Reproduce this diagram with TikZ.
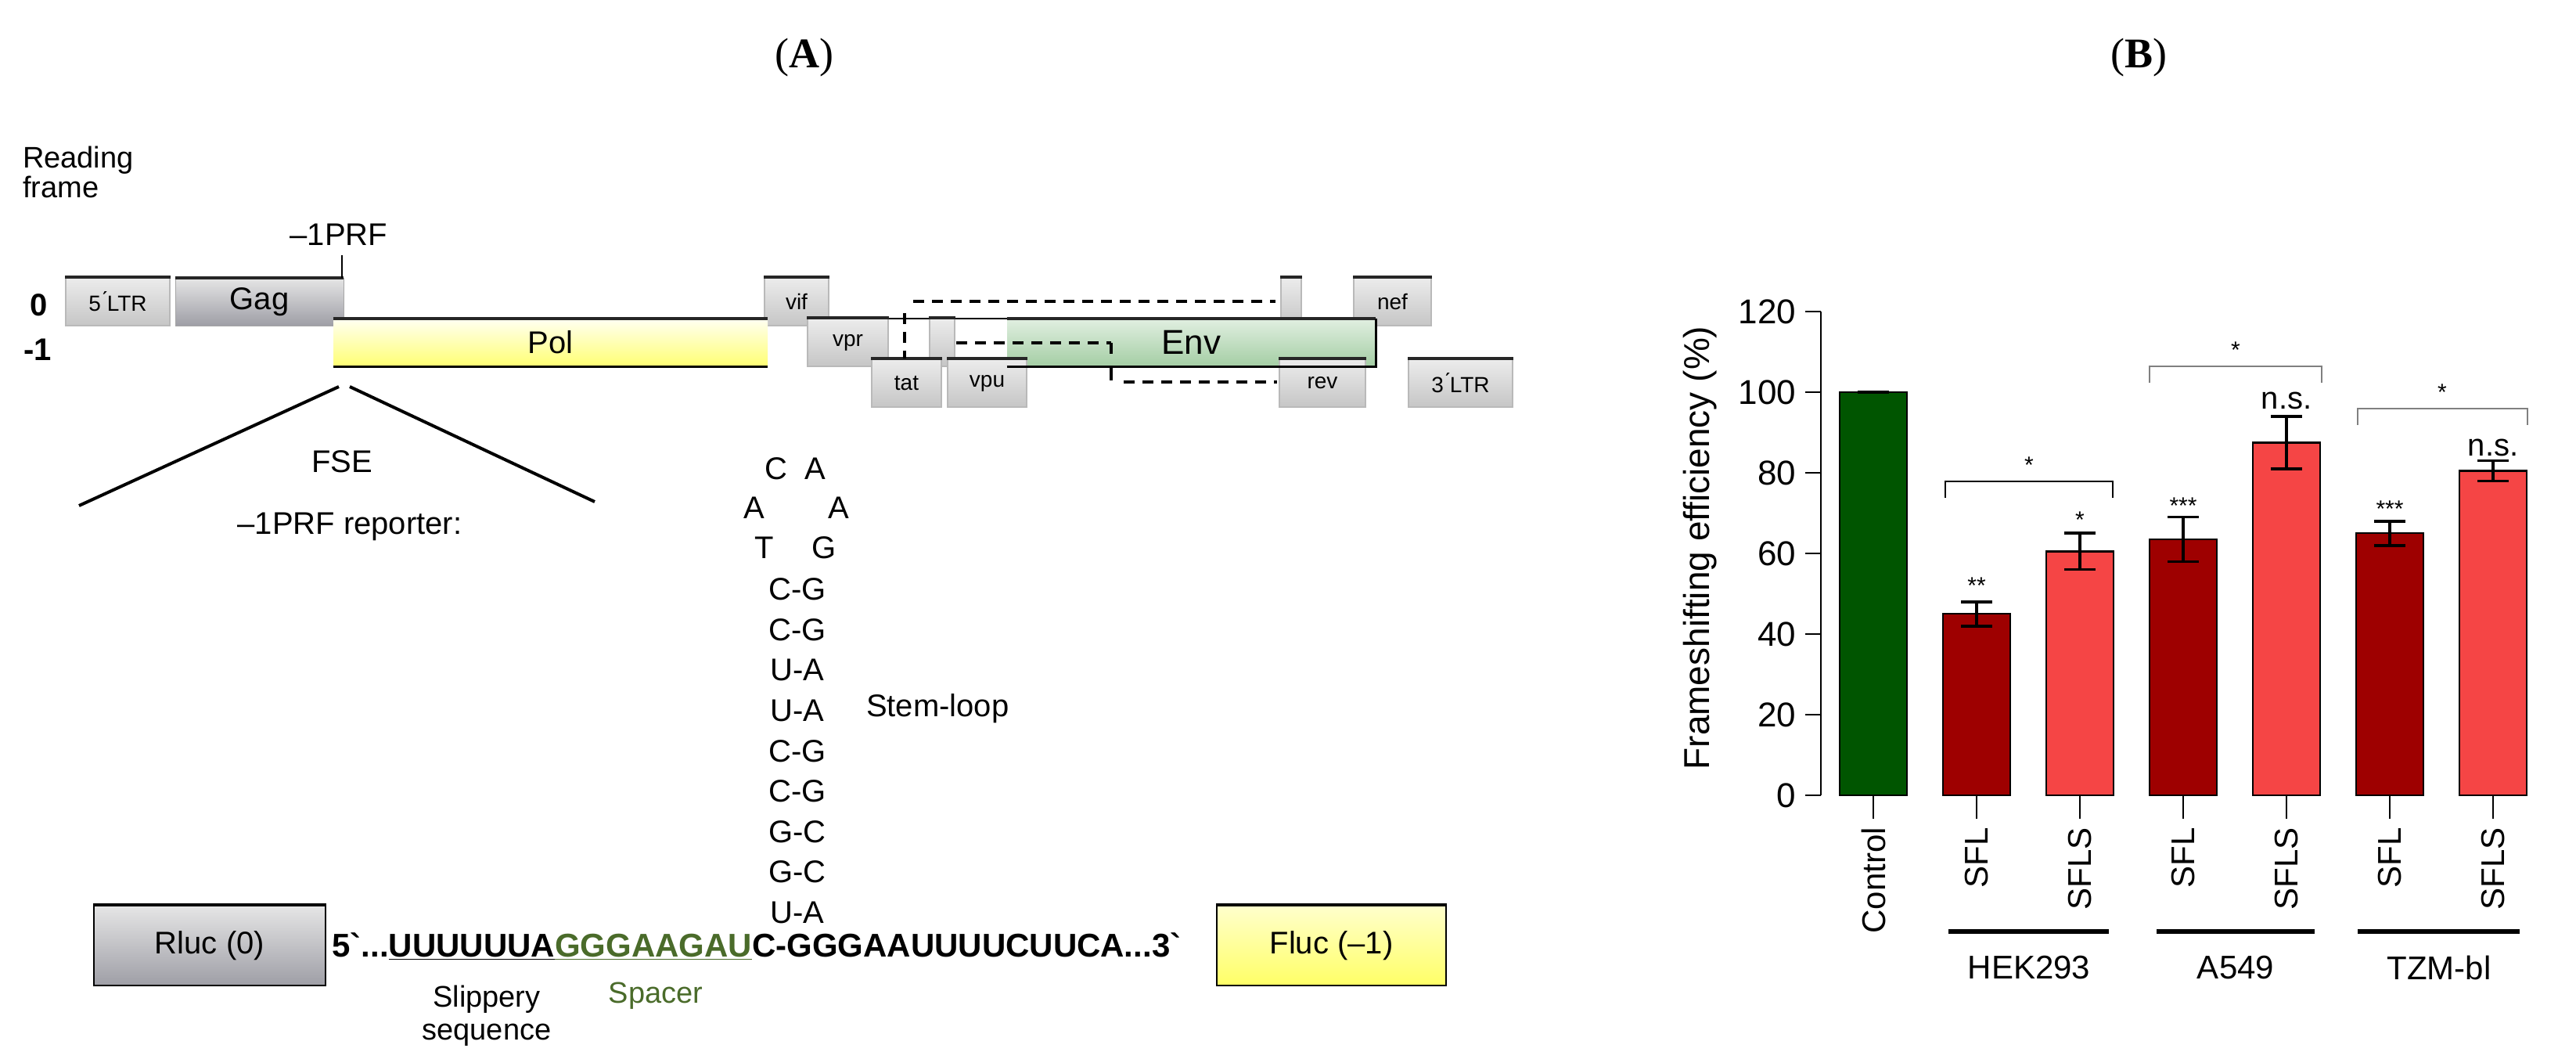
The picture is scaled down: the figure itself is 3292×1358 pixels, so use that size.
\documentclass[tikz,border=0pt]{standalone}
\usepackage{fontspec}
\setmainfont{Liberation Sans}
\newfontfamily\headfont{Liberation Serif}
\usetikzlibrary{fit}
\newcommand\myul[1]{$\underline{\hbox{#1}}$}
\newcommand\fs[1]{\fontsize{#1pt}{#1pt}\selectfont}
\definecolor{spgreen}{HTML}{4A6B2A}
\definecolor{ctl}{HTML}{005500}
\definecolor{dred}{HTML}{9E0000}
\definecolor{lred}{HTML}{F54545}
\tikzset{
  gb/.style={inner sep=0pt, draw=gray!55, line width=0.6pt, top color=#1!15, bottom color=#1!45},
  gbox/.style={gb=gray},
  gagbox/.style={inner sep=0pt, draw=gray!70, top color=black!10, bottom color=blue!8!black!38},
  polbox/.style={inner sep=0pt, draw=none, top color=yellow!5, bottom color=yellow!55},
  envbox/.style={inner sep=0pt, draw=none, top color=green!30!gray!18, bottom color=green!30!gray!55},
  flucbox/.style={inner sep=0pt, draw=black, line width=1pt, top color=yellow!20, bottom color=yellow!60},
  topedge/.style={line width=2pt, black!85},
  lab/.style={font=\fs{20}, text=black},
  small/.style={font=\fs{14}},
  spl/.style={line width=2.2pt, dash pattern=on 7pt off 5pt},
  bar/.style={draw=black, line width=1.2pt, inner sep=0pt},
  ax/.style={line width=1.2pt},
  ticklab/.style={font=\fs{22}, anchor=east},
  xlab/.style={font=\fs{21}, rotate=90, anchor=east},
  star/.style={font=\fs{15}, anchor=south},
}
\begin{document}
\begin{tikzpicture}[x=0.5pt,y=-0.5pt]
\useasboundingbox (0,0) rectangle (3292,1358);
% headings
\node[font=\headfont\fs{27}] (hA) at (1028,74) {(\textbf{A})};
\node[font=\headfont\fs{27}] (hB) at (2733,74) {(\textbf{B})};
% reading frame
\node[lab, anchor=north west, align=left, font=\fs{19}] (rf) at (22,180) {Reading\\frame};
\node[lab, font=\bfseries\fs{20}] (r0) at (50,390) {0};
\node[lab, font=\bfseries\fs{20}] (r1) at (48,447) {-1};
% genome line
\coordinate (gl1) at (439,407);
\coordinate (gl2) at (1730,407);
\draw[line width=1.2pt] (gl1) -- (gl2);
% row 0
\node[gbox, fit={(84,355)(217,416)}] (ltr5) {};
\node[small] at (ltr5.center) {5\'{}LTR};
\node[gagbox, fit={(224,355)(439,416)}] (gag) {};
\node[lab] at (gag.center) {Gag};
\node[gbox, fit={(977,355)(1059,416)}] (vif) {};
\node[small] at (vif.center) {vif};
\node[gbox, fit={(1637,355)(1663,416)}] (sm0) {};
\node[gbox, fit={(1730,355)(1829,416)}] (nef) {};
\node[small] at (nef.center) {nef};
% row -1
\node[polbox, fit={(426,407)(981,468)}] (pol) {};
\node[lab] at (pol.center) {Pol};
\node[gbox, fit={(1032,407)(1135,468)}] (vpr) {};
\node[small] at (vpr.center) {vpr};
\node[gbox, fit={(1188,407)(1220,468)}] (sm1) {};
\node[envbox, fit={(1287,407)(1758,468)}] (env) {};
\node[lab, font=\fs{22}] at (env.center) {Env};
% row -2
\node[gbox, fit={(1114,459)(1203,520)}] (tat) {};
\node[small] at (tat.center) {tat};
\node[gbox, fit={(1211,459)(1312,520)}] (vpu) {};
\node[small] at (vpu.center) {vpu};
\node[gbox, fit={(1635,459)(1745,520)}] (rev) {};
\node[small] at (rev.center) {rev};
\node[gbox, fit={(1800,459)(1933,520)}] (ltr3) {};
\node[small] at (ltr3.center) {3\'{}LTR};
% top edges
\foreach \n in {ltr5,gag,vif,sm0,nef,pol,vpr,sm1,env,tat,vpu,rev,ltr3}
  \draw[topedge] (\n.north west) -- (\n.north east);
\draw[line width=1.2pt] (pol.south west) -- (pol.south east);
\draw[line width=1.2pt] (env.south west) -- (env.south east) -- (env.north east);
% dashed splice lines
\coordinate (d1) at (1156,400); \coordinate (d2) at (1156,458);
\coordinate (d3) at (1167,385); \coordinate (d4) at (1630,385);
\coordinate (d5) at (1222,438); \coordinate (d6) at (1420,438); \coordinate (d7) at (1420,452);
\coordinate (d8) at (1420,470); \coordinate (d9) at (1420,486); \coordinate (d10) at (1436,488); \coordinate (d11) at (1632,488);
\draw[spl] (d1) -- (d2);
\draw[spl] (d3) -- (d4);
\draw[spl] (d5) -- (d6);
\draw[line width=2.2pt] (d6) -- (d7);
\draw[line width=2.2pt] (d8) -- (d9);
\draw[spl] (d10) -- (d11);
% -1PRF
\node[lab] (prf) at (433,300) {\textendash1PRF};
\coordinate (prfb) at (437,355);
\draw[line width=1.2pt] (437,326) -- (prfb);
% FSE triangle
\coordinate (ta) at (433,494); \coordinate (tb) at (447,494);
\coordinate (tl) at (101,646); \coordinate (tr) at (760,641);
\draw[line width=2pt] (ta) -- (tl);
\draw[line width=2pt] (tb) -- (tr);
\node[lab] (fse) at (437,590) {FSE};
\node[lab] (rep) at (447,673) {\textendash1PRF reporter:};
% stem-loop
\node[lab] at (992,599) {C};
\node[lab] at (1042,599) {A};
\node[lab] at (964,649) {A};
\node[lab] at (1072,649) {A};
\node[lab] at (977,700) {T};
\node[lab] at (1053,700) {G};
\foreach \p [count=\i] in {C-G,C-G,U-A,U-A,C-G,C-G,G-C,G-C,U-A}
  \node[lab] (bp\i) at (1019,{753+51.6*(\i-1)}) {\p};
\node[lab, anchor=west] (sl) at (1100,905) {Stem-loop};
% reporter
\node[gagbox, draw=black, line width=1pt, fit={(120,1157)(416,1259)}] (rluc) {};
\node[lab] at (rluc.center) {Rluc (0)};
\node[flucbox, fit={(1555,1157)(1848,1259)}] (fluc) {};
\node[lab] at (fluc.center) {Fluc (\textendash1)};
\draw[line width=2pt] (rluc.north west) -- (rluc.north east);
\draw[line width=2pt] (fluc.north west) -- (fluc.north east);
\node[anchor=base west, font=\bfseries\fs{21}, inner sep=0pt] (seq) at (424,1222)
  {5\textasciigrave...\myul{UUUUUUA}\textcolor{spgreen}{\myul{GGGAAGAU}}C-GGGAAUUUUCUUCA...3\textasciigrave};
\node[lab, align=center, font=\fs{19}] (slip) at (622,1298) {Slippery\\[2pt]sequence};
\node[lab, text=spgreen, font=\fs{19}] (spc) at (838,1272) {Spacer};
% ---- chart ----
\coordinate (o) at (2327,1016);
\coordinate (top) at (2327,398);
\draw[ax] (o) -- (top);
\foreach \v in {0,20,...,120} {
  \draw[ax] (2307,{1016-5.15*\v}) -- (2327,{1016-5.15*\v});
  \node[ticklab] at (2302,{1016-5.15*\v}) {\v};
}
\node[font=\fs{23}, rotate=90] (ylab) at (2173,700) {Frameshifting efficiency (\%)};
\foreach \c/\v/\col/\lo/\hi/\nm in {2394/100/ctl/100/100/b0, 2526/45/dred/42/48/b1, 2658/60.5/lred/56/65/b2, 2790/63.5/dred/58/69/b3, 2922/87.5/lred/81/94/b4, 3054/65/dred/62/68/b5, 3186/80.5/lred/78/83/b6} {
  \node[bar, fill=\col, fit={({\c-43},{1016-5.15*\v})({\c+43},1016)}] (\nm) {};
  \draw[line width=1.8pt] (\c,{1016-5.15*\lo}) -- (\c,{1016-5.15*\hi});
  \draw[line width=1.8pt] ({\c-20},{1016-5.15*\lo}) -- ({\c+20},{1016-5.15*\lo});
  \draw[line width=1.8pt] ({\c-20},{1016-5.15*\hi}) -- ({\c+20},{1016-5.15*\hi});
  \draw[line width=1.2pt] (\c,1016) -- (\c,1046);
}
\node[xlab] at (2394,1050) {Control};
\foreach \c/\t in {2526/SFL,2658/SFLS,2790/SFL,2922/SFLS,3054/SFL,3186/SFLS}
  \node[xlab] at (\c,1050) {\t};
% significance
\node[star] at (2526,766) {**};
\node[star] at (2658,682) {*};
\node[star] at (2790,664) {***};
\node[font=\fs{20}, anchor=south] at (2922,530) {n.s.};
\node[star] at (3054,668) {***};
\node[font=\fs{20}, anchor=south] at (3186,590) {n.s.};
% brackets
\draw[line width=1.2pt] (2486,636) -- (2486,615) -- (2700,615) -- (2700,636);
\node[star] at (2593,612) {*};
\draw[line width=1.2pt, gray] (2747,489) -- (2747,468) -- (2967,468) -- (2967,489);
\node[star] at (2857,465) {*};
\draw[line width=1.2pt, gray] (3013,543) -- (3013,522) -- (3230,522) -- (3230,543);
\node[star] at (3121,519) {*};
% groups
\draw[line width=3pt] (2490,1190) -- (2695,1190);
\draw[line width=3pt] (2756,1190) -- (2958,1190);
\draw[line width=3pt] (3013,1190) -- (3220,1190);
\node[font=\fs{21}] (g1) at (2593,1236) {HEK293};
\node[font=\fs{21}] (g2) at (2857,1236) {A549};
\node[font=\fs{21}] (g3) at (3117,1236) {TZM-bl};
\end{tikzpicture}
\end{document}
